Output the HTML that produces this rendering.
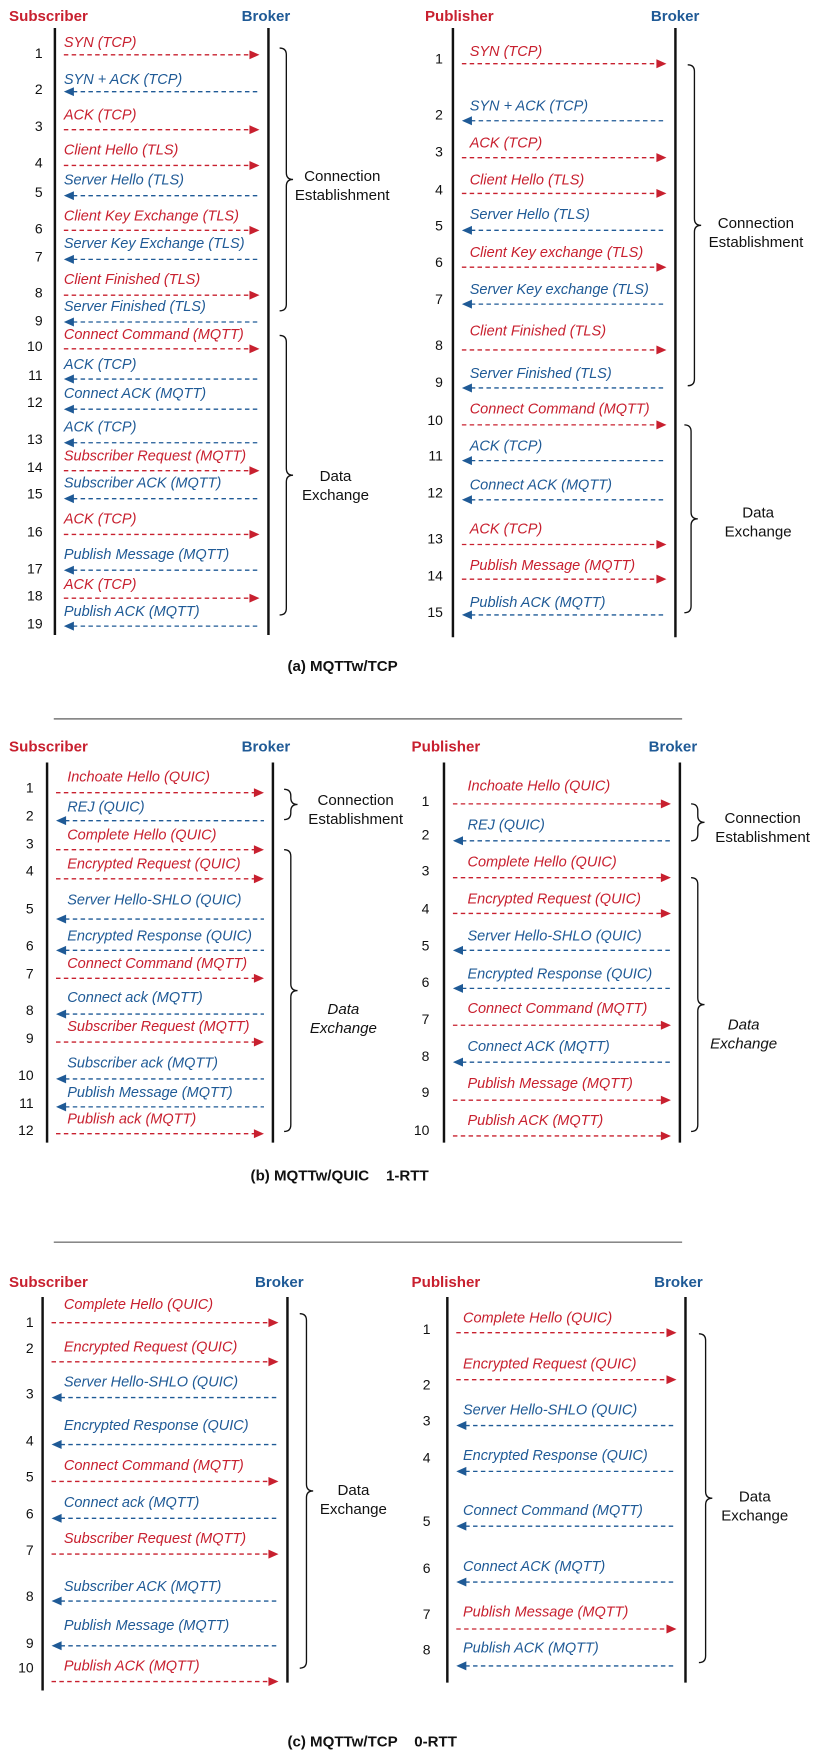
<!DOCTYPE html>
<html><head><meta charset="utf-8"><style>
html,body{margin:0;padding:0;background:#fff;}
svg{display:block;}
text{font-family:"Liberation Sans",Arial,sans-serif;}
</style></head><body>
<svg id="fig" width="822" height="1752" viewBox="0 0 735 1567" xmlns="http://www.w3.org/2000/svg"></svg>
<script>
const RED="#c8202f", BLUE="#1f5a96";
// Panel (a) left
const aLLabels=["SYN (TCP)","SYN  + ACK (TCP)","ACK (TCP)","Client Hello (TLS)","Server Hello (TLS)","Client Key Exchange (TLS)","Server Key Exchange (TLS)","Client Finished (TLS)","Server Finished (TLS)","Connect Command (MQTT)","ACK (TCP)","Connect ACK (MQTT)","ACK (TCP)","Subscriber Request (MQTT)","Subscriber ACK (MQTT)","ACK (TCP)","Publish Message (MQTT)","ACK (TCP)","Publish ACK (MQTT)"];
const aLDirs=["r","l","r","r","l","r","l","r","l","r","l","l","l","r","l","r","l","r","l"];
const aLTextY=[42,75,107,138,165,197,222,254,278,303,330,356,386,412,436,468,500,527,551];
const aLArrowY=[49,82,116,148,175,206,232,264,288,312,339,366,396,421,446,478,510,535,560];
const aLNumY=[48,80,113,146,172,205,230,262,287,310,336,360,393,418,442,476,509,533,558];
// Panel (a) right
const aRLabels=["SYN (TCP)","SYN + ACK (TCP)","ACK (TCP)","Client Hello (TLS)","Server Hello (TLS)","Client Key exchange (TLS)","Server Key exchange (TLS)","Client Finished (TLS)","Server Finished (TLS)","Connect Command (MQTT)","ACK (TCP)","Connect ACK (MQTT)","ACK (TCP)","Publish Message (MQTT)","Publish ACK (MQTT)"];
const aRDirs=["r","l","r","r","l","r","l","r","l","r","l","l","r","r","l"];
const aRTextY=[50,99,132,165,196,230,263,300,338,370,403,438,477,510,543];
const aRArrowY=[57,108,141,173,206,239,272,313,347,380,412,447,487,518,550];
const aRNumY=[53,103,136,170,202,235,268,309,342,376,408,441,482,515,548];
// Panel (b) left
const bLLabels=["Inchoate Hello (QUIC)","REJ (QUIC)","Complete Hello (QUIC)","Encrypted Request (QUIC)","Server Hello-SHLO (QUIC)","Encrypted Response (QUIC)","Connect Command (MQTT)","Connect ack (MQTT)","Subscriber Request (MQTT)","Subscriber ack (MQTT)","Publish Message (MQTT)","Publish ack (MQTT)"];
const bLDirs=["r","l","r","r","l","l","r","l","r","l","l","r"];
const bLTextY=[699,726,751,777,809,841,866,896,922,955,981,1005];
const bLArrowY=[709,734,760,786,822,850,875,907,932,965,990,1014];
const bLNumY=[705,730,755,779,813,846,871,904,929,962,987,1011];
// Panel (b) right
const bRLabels=["Inchoate Hello (QUIC)","REJ (QUIC)","Complete Hello (QUIC)","Encrypted Request (QUIC)","Server Hello-SHLO (QUIC)","Encrypted Response (QUIC)","Connect Command (MQTT)","Connect ACK (MQTT)","Publish Message (MQTT)","Publish ACK (MQTT)"];
const bRDirs=["r","l","r","r","l","l","r","l","r","r"];
const bRTextY=[707,742,775,808,841,875,906,940,973,1006];
const bRArrowY=[719,752,785,817,850,884,917,950,984,1016];
const bRNumY=[717,747,779,813,846,879,912,945,977,1011];
// Panel (c) left
const cLLabels=["Complete Hello (QUIC)","Encrypted Request (QUIC)","Server Hello-SHLO (QUIC)","Encrypted Response (QUIC)","Connect Command (MQTT)","Connect ack (MQTT)","Subscriber Request (MQTT)","Subscriber ACK (MQTT)","Publish Message (MQTT)","Publish ACK (MQTT)"];
const cLDirs=["r","r","l","l","r","l","r","l","l","r"];
const cLTextY=[1171,1209,1240,1279,1315,1348,1380,1423,1458,1494];
const cLArrowY=[1183,1218,1250,1292,1325,1358,1390,1432,1472,1504];
const cLNumY=[1183,1206,1247,1289,1321,1354,1387,1428,1470,1492];
// Panel (c) right
const cRLabels=["Complete Hello (QUIC)","Encrypted Request (QUIC)","Server Hello-SHLO (QUIC)","Encrypted Response (QUIC)","Connect Command (MQTT)","Connect ACK (MQTT)","Publish Message (MQTT)","Publish ACK (MQTT)"];
const cRDirs=["r","r","l","l","l","l","r","l"];
const cRTextY=[1183,1224,1265,1306,1355,1405,1446,1478];
const cRArrowY=[1192,1234,1275,1316,1365,1415,1457,1490];
const cRNumY=[1189,1239,1271,1304,1361,1403,1444,1476];

const NS="http://www.w3.org/2000/svg";
const svg=document.getElementById('fig');
function mk(tag,attrs,parent){const e=document.createElementNS(NS,tag);for(const k in attrs)e.setAttribute(k,attrs[k]);(parent||svg).appendChild(e);return e;}
function txt(s,x,y,attrs,parent){const t=mk('text',Object.assign({x:x,y:y},attrs),parent);t.textContent=s;return t;}

function panel(p){
  const g=mk('g',{});
  
  
  const h1=txt(p.leftTitle,p.titleX1,p.titleY,{fill:RED,'font-weight':'bold','font-size':13.5},g);
  
  
  const h2=txt('Broker',p.titleX2,p.titleY,{fill:BLUE,'font-weight':'bold','font-size':13.5},g);
  
  
  const l1=mk('line',{x1:p.lx,x2:p.lx,y1:p.y1,y2:p.y2,stroke:'#111','stroke-width':2.2},g);
  
  
  const l2=mk('line',{x1:p.rx,x2:p.rx,y1:p.y1,y2:p.y2b||p.y2,stroke:'#111','stroke-width':2.2},g);
  
  
  const ax1=p.lx+8, ax2=p.rx-8;
  p.labels.forEach((lab,i)=>{
    const right=p.dirs[i]==='r';
    const col=right?RED:BLUE;
    const ay=p.arrowY[i];
    const m=mk('g',{},g);
    
    
    if(right){
      mk('line',{x1:ax1,x2:ax2-8,y1:ay,y2:ay,stroke:col,'stroke-width':1.2,'stroke-dasharray':'4 3'},m);
      mk('path',{d:`M${ax2},${ay} L${ax2-9},${ay-4} L${ax2-9},${ay+4}Z`,fill:col},m);
    }else{
      mk('line',{x1:ax1+8,x2:ax2,y1:ay,y2:ay,stroke:col,'stroke-width':1.2,'stroke-dasharray':'4 3'},m);
      mk('path',{d:`M${ax1},${ay} L${ax1+9},${ay-4} L${ax1+9},${ay+4}Z`,fill:col},m);
    }
    txt(lab,p.textX+(p.textOff?p.textOff[i]||0:0),p.textY[i],{fill:col,'font-style':'italic','font-size':13},m);
    txt(String(i+1),p.numX,p.numY[i]+4,{fill:'#111','font-size':12.5,'text-anchor':'end'},m);
  });
  p.braces.forEach((b,j)=>{
    const x=b.x,y1=b.y1,y2=b.y2,mid=(y1+y2)/2;
    const br=mk('path',{d:`M${x},${y1} Q${x+6},${y1} ${x+6},${y1+6} L${x+6},${mid-6} Q${x+6},${mid} ${x+12},${mid} Q${x+6},${mid} ${x+6},${mid+6} L${x+6},${y2-6} Q${x+6},${y2} ${x},${y2}`,fill:'none',stroke:'#111','stroke-width':1.2},g);
    
    
    b.lines.forEach((s,k)=>{
      const t=txt(s,b.tx,b.ty+k*17,{fill:'#111','font-size':13.5,'text-anchor':'middle','font-style':b.italic?'italic':'normal'},g);
      
      
    });
  });
}
const CE=["Connection","Establishment"], DE=["Data","Exchange"];
panel({name:'panel-a-subscriber',leftTitle:'Subscriber',titleX1:8,titleX2:216,titleY:19,lx:49,rx:240,y1:25,y2:568,labels:aLLabels,dirs:aLDirs,textY:aLTextY,arrowY:aLArrowY,numY:aLNumY,textX:57,numX:38,
  braces:[{x:250,y1:43,y2:278,tx:306,ty:162,lines:CE},{x:250,y1:300,y2:550,tx:300,ty:430,lines:DE}]});
panel({name:'panel-a-publisher',leftTitle:'Publisher',titleX1:380,titleX2:582,titleY:19,lx:405,rx:604,y1:25,y2:570,labels:aRLabels,dirs:aRDirs,textY:aRTextY,arrowY:aRArrowY,numY:aRNumY,textX:420,numX:396,
  braces:[{x:615,y1:58,y2:345,tx:676,ty:204,lines:CE},{x:612,y1:380,y2:548,tx:678,ty:463,lines:DE}]});
panel({name:'panel-b-subscriber',leftTitle:'Subscriber',titleX1:8,titleX2:216,titleY:672,lx:42,rx:244,y1:682,y2:1022,labels:bLLabels,dirs:bLDirs,textY:bLTextY,arrowY:bLArrowY,numY:bLNumY,textX:60,numX:30,
  braces:[{x:254,y1:706,y2:733,tx:318,ty:720,lines:CE},{x:254,y1:760,y2:1012,tx:307,ty:907,lines:DE,italic:true}]});
panel({name:'panel-b-publisher',leftTitle:'Publisher',titleX1:368,titleX2:580,titleY:672,lx:397,rx:608,y1:682,y2:1022,labels:bRLabels,dirs:bRDirs,textY:bRTextY,arrowY:bRArrowY,numY:bRNumY,textX:418,numX:384,
  braces:[{x:618,y1:719,y2:752,tx:682,ty:736,lines:CE},{x:618,y1:785,y2:1012,tx:665,ty:921,lines:DE,italic:true}]});
panel({name:'panel-c-subscriber',leftTitle:'Subscriber',titleX1:8,titleX2:228,titleY:1151,lx:38,rx:257,y1:1160,y2:1512,y2b:1505,labels:cLLabels,dirs:cLDirs,textY:cLTextY,arrowY:cLArrowY,numY:cLNumY,textX:57,numX:30,
  braces:[{x:268,y1:1175,y2:1492,tx:316,ty:1337,lines:DE}]});
panel({name:'panel-c-publisher',leftTitle:'Publisher',titleX1:368,titleX2:585,titleY:1151,lx:400,rx:613,y1:1160,y2:1505,labels:cRLabels,dirs:cRDirs,textY:cRTextY,arrowY:cRArrowY,numY:cRNumY,textX:414,numX:385,
  braces:[{x:625,y1:1193,y2:1487,tx:675,ty:1343,lines:DE}]});

const caps=[["(a) MQTTw/TCP",257,600,'caption-a'],["(b) MQTTw/QUIC    1-RTT",224,1056,'caption-b'],["(c) MQTTw/TCP    0-RTT",257,1562,'caption-c']];
caps.forEach(c=>{const t=txt(c[0],c[1],c[2],{fill:'#111','font-weight':'bold','font-size':13.5,'xml:space':'preserve'});t.setAttribute('style','white-space:pre');
  
  
});
[643,1111].forEach((y,i)=>{const l=mk('line',{x1:48,x2:610,y1:y,y2:y,stroke:'#777','stroke-width':1.3});
  
  
});
</script>
</body></html>
